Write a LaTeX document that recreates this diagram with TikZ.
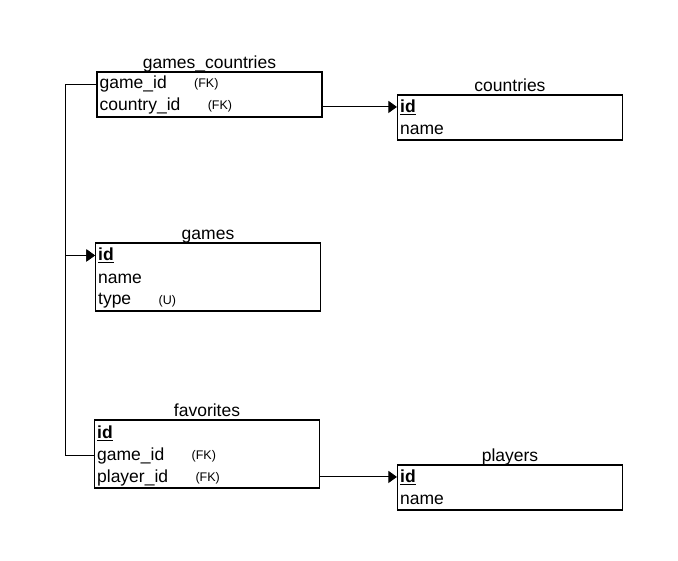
\documentclass[tikz,border=0pt]{standalone}
\usepackage{fontspec}
\setmainfont{Liberation Sans}
\usetikzlibrary{arrows.meta, positioning}

\begin{document}
\begin{tikzpicture}[
    x=1pt, y=1pt,
    node distance=25pt,
    every node/.style={font=\fontsize{17.5}{20}\selectfont},
    tbl/.style={draw, line width=1.1pt, minimum width=225pt, inner sep=0pt},
    tbl2/.style={tbl, minimum height=45pt},
    tbl3/.style={tbl, minimum height=68pt},
    title/.style={anchor=base, inner sep=0pt},
    row/.style={anchor=west, inner sep=1pt},
    tag/.style={inner sep=1pt, font=\fontsize{12.5}{14}\selectfont},
    link/.style={line width=0.9pt, -{Triangle[length=8.5pt, width=12pt]}}
]
    \useasboundingbox (0,0) rectangle (678,561);

    % tables
    \node[tbl2] (gc) at (209.5,466.5) {};
    \node[tbl2] (countries) at (510,443.5) {};
    \node[tbl3] (games) at (208,284) {};
    \node[tbl3] (fav) at (207,107) {};
    \node[tbl2] (players) at (510,73.5) {};

    % titles
    \node[title] at ([yshift=3pt]gc.north) {games\_countries};
    \node[title] at ([yshift=3pt]countries.north) {countries};
    \node[title] at ([yshift=3pt]games.north) {games};
    \node[title] at ([yshift=3pt]fav.north) {favorites};
    \node[title] at ([yshift=3pt]players.north) {players};

    % games_countries rows
    \node[row] (gc-game) at ([xshift=2pt, yshift=-13pt]gc.north west) {game\_id};
    \node[row] (gc-country) at ([yshift=-22pt]gc-game.west) {country\_id};
    \node[tag, right=of gc-game] {(FK)};
    \node[tag, right=of gc-country] {(FK)};

    % countries rows
    \node[row] (countries-id) at ([xshift=2pt, yshift=-12.5pt]countries.north west) {\underline{\textbf{id}}};
    \node[row] (countries-name) at ([yshift=-23pt]countries-id.west) {name};

    % games rows
    \node[row] (games-id) at ([xshift=2pt, yshift=-13pt]games.north west) {\underline{\textbf{id}}};
    \node[row] (games-name) at ([yshift=-23pt]games-id.west) {name};
    \node[row] (games-type) at ([yshift=-22.5pt]games-name.west) {type};
    \node[tag, right=of games-type] {(U)};

    % favorites rows
    \node[row] (fav-id) at ([xshift=2pt, yshift=-13.5pt]fav.north west) {\underline{\textbf{id}}};
    \node[row] (fav-game) at ([yshift=-23pt]fav-id.west) {game\_id};
    \node[row] (fav-player) at ([yshift=-22pt]fav-game.west) {player\_id};
    \node[tag, right=of fav-game] {(FK)};
    \node[tag, right=of fav-player] {(FK)};

    % players rows
    \node[row] (players-id) at ([xshift=2pt, yshift=-12.5pt]players.north west) {\underline{\textbf{id}}};
    \node[row] (players-name) at ([yshift=-22.5pt]players-id.west) {name};

    % links
    \coordinate (bus) at (65,300);
    \draw[link] (gc.west |- gc-game) -- (bus |- gc-game) |- (games.west |- games-id);
    \draw[link] (fav.west |- fav-game) -- (bus |- fav-game) |- (games.west |- games-id);
    \draw[link] (gc.east |- countries-id) -- (countries.west |- countries-id);
    \draw[link] (fav.east |- players-id) -- (players.west |- players-id);
\end{tikzpicture}
\end{document}
